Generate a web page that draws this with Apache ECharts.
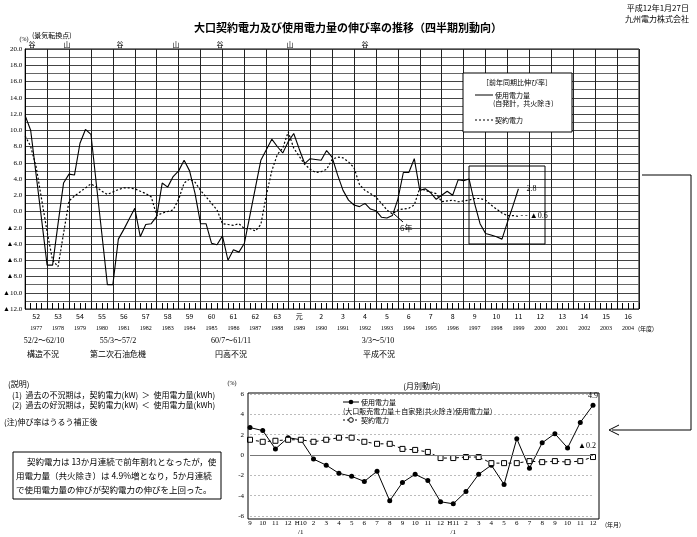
<!DOCTYPE html>
<html><head><meta charset="utf-8">
<script src="https://cdn.jsdelivr.net/npm/echarts@6/dist/echarts.min.js"></script>
<style>html,body{margin:0;padding:0;background:#fff}#c{width:697px;height:537px}</style>
</head><body><div id="c"></div>
<script>
// ---- data ----
const eraYears = ['52','53','54','55','56','57','58','59','60','61','62','63','元','2','3','4','5','6','7','8','9','10','11','12','13','14','15','16'];
const westYears = ['1977','1978','1979','1980','1981','1982','1983','1984','1985','1986','1987','1988','1989','1990','1991','1992','1993','1994','1995','1996','1997','1998','1999','2000','2001','2002','2003','2004'];
// quarterly growth rate (%), from FY52 Q1 to FY11 Q3
const usageQ = [11.8,10.0,4.5,-1.0, -6.6,-6.6,-1.5,3.5, 4.6,4.5,8.4,10.1, 9.5,3.3,-2.8,-9.0,
  -9.0,-3.4,-2.2,-0.9, 0.4,-3.1,-1.6,-1.5, -0.6,3.5,3.0,4.3, 5.0,6.3,5.0,2.2,
  -1.5,-1.5,-3.9,-4.1, -3.0,-6.0,-4.7,-5.0, -3.9,-0.5,2.9,6.3, 7.6,8.9,8.0,7.2,
  8.6,9.6,7.7,5.9, 6.5,6.4,6.3,7.5, 6.7,4.5,2.6,1.4, 0.8,0.6,1.0,0.3,
  0.1,-0.7,-0.8,-0.5, 1.5,4.8,4.8,6.5, 2.6,2.8,2.3,1.5, 2.0,2.5,2.0,3.9,
  3.8,4.0,1.0,-1.5, -2.7,-2.9,-3.1,-3.4, -1.3,0.7,2.8];
const contractQ = [9.3,8.0,5.5,1.5, -2.5,-6.0,-6.8,-2.7, 1.3,1.9,2.4,2.9, 3.4,3.0,2.5,2.1,
  2.4,2.7,2.9,2.9, 2.8,2.5,2.2,1.8, -0.5,-0.2,0.0,0.2, 1.5,3.5,4.0,3.6,
  2.6,1.8,1.0,0.2, -1.5,-1.6,-1.7,-1.5, -2.1,-2.1,-2.4,-1.6, 2.0,5.0,7.0,7.8,
  9.8,7.8,6.8,5.8, 5.2,4.8,4.9,5.2, 6.4,6.7,6.6,6.1, 5.4,3.3,2.6,2.2,
  1.8,1.0,0.2,-0.3, 0.2,0.3,0.4,0.8, 2.9,2.6,2.4,2.2, 1.2,1.3,1.4,1.2,
  1.3,1.4,1.6,1.6, 1.4,0.8,0.3,-0.2, -0.5,-0.5,-0.6];
const monthLabels = ['9','10','11','12','H10\n/1','2','3','4','5','6','7','8','9','10','11','12','H11\n/1','2','3','4','5','6','7','8','9','10','11','12'];
const usageM = [2.7,2.4,0.6,1.7,1.5,-0.4,-1.0,-1.8,-2.1,-2.6,-1.6,-4.5,-2.7,-1.9,-2.5,-4.6,-4.8,-3.6,-1.9,-1.0,-2.9,1.6,-1.3,1.2,2.1,0.7,3.2,4.9];
const contractM = [1.5,1.3,1.4,1.5,1.5,1.3,1.5,1.7,1.7,1.3,1.1,1.1,0.6,0.5,0.3,-0.3,-0.3,-0.2,-0.2,-0.8,-0.8,-0.8,-0.6,-0.7,-0.6,-0.7,-0.6,-0.2];

// ---- helpers ----
const JP = '"Noto Sans CJK JP","Liberation Serif",sans-serif';
const NUM = '"Liberation Serif","Noto Sans CJK JP",serif';
const fmtTri = v => (v < 0 ? '▲' + Math.abs(v).toFixed(1) : v.toFixed(1));
function T(x, y, text, size, extra) {
  return {type: 'text', x: x, y: y, z: 100,
    style: Object.assign({text: text, fontSize: size, fontFamily: JP, fill: '#000', align: 'left', verticalAlign: 'middle'}, extra || {})};
}
function L(x1, y1, x2, y2, extra) {
  return {type: 'line', z: 100, shape: {x1: x1, y1: y1, x2: x2, y2: y2},
    style: Object.assign({stroke: '#000', lineWidth: 1}, extra || {})};
}
function lastLabelCat(arr, fmt, labelOpt) {
  return arr.map((v, i) => i === arr.length - 1
    ? {value: v, label: Object.assign({show: true, formatter: fmt(v), fontSize: 8, fontFamily: NUM, color: '#000'}, labelOpt)}
    : v);
}

const chart = echarts.init(document.getElementById('c'));
const cycleMarks = [['谷', 32], ['山', 67], ['谷', 120], ['山', 176], ['谷', 220], ['山', 290], ['谷', 365]];

const option = {
  animation: false,
  backgroundColor: '#fff',
  grid: [
    {left: 22, top: 49, width: 617, height: 260, show: true, borderColor: '#000', borderWidth: 1, backgroundColor: 'transparent'},
    {left: 250, top: 394, width: 343, height: 125}
  ],
  xAxis: [
    {gridIndex: 0, type: 'category', data: eraYears, boundaryGap: true, position: 'bottom',
      axisLine: {show: false}, axisTick: {show: false},
      splitLine: {show: true, interval: 0, lineStyle: {color: '#222', width: 1}},
      axisLabel: {interval: 0, margin: 1, fontFamily: NUM, color: '#000',
        formatter: (v, i) => '{a|' + v + '}\n{b|' + westYears[i] + '}',
        rich: {a: {fontSize: 7, lineHeight: 12, fontFamily: JP}, b: {fontSize: 6, lineHeight: 12, fontFamily: NUM}}}},
    {gridIndex: 0, type: 'value', min: 0, max: 112, interval: 4, position: 'bottom',
      axisLine: {show: false}, axisLabel: {show: false}, splitLine: {show: false},
      axisTick: {show: true, inside: true, length: 6, lineStyle: {color: '#000'}},
      minorTick: {show: true, splitNumber: 4, length: 6, lineStyle: {color: '#000'}}},
    {gridIndex: 1, type: 'category', data: monthLabels, boundaryGap: false,
      axisLine: {show: false}, axisTick: {show: false},
      axisLabel: {interval: 0, margin: 3, fontSize: 7, lineHeight: 9, fontFamily: NUM, color: '#000'}}
  ],
  yAxis: [
    {gridIndex: 0, type: 'value', min: -12, max: 20, interval: 2,
      axisLine: {show: true, lineStyle: {color: '#000'}}, axisTick: {show: false},
      axisLabel: {formatter: fmtTri, fontSize: 7, margin: 3, fontFamily: NUM, color: '#000'},
      splitLine: {show: true, lineStyle: {color: '#444', width: 1}},
      minorTick: {show: false, splitNumber: 2},
      minorSplitLine: {show: true, lineStyle: {color: '#666', width: 1}}},
    {gridIndex: 1, type: 'value', min: -6, max: 6, interval: 2,
      axisLine: {show: false}, axisTick: {show: false},
      axisLabel: {fontSize: 7, margin: 6, fontFamily: NUM, color: '#000'},
      splitLine: {show: true, lineStyle: {color: '#bbb', type: [2, 2]}}}
  ],
  series: [
    {name: '使用電力量', type: 'line', xAxisIndex: 1, yAxisIndex: 0, symbol: 'none', z: 5,
      lineStyle: {color: '#000', width: 1.1},
      endLabel: {show: true, distance: 8, fontSize: 8, fontFamily: NUM, color: '#000',
        formatter: p => p.value[1].toFixed(1)},
      data: usageQ.map((v, i) => [i, v])},
    {name: '契約電力', type: 'line', xAxisIndex: 1, yAxisIndex: 0, symbol: 'none', z: 4,
      lineStyle: {color: '#000', width: 1.2, type: [2, 2]},
      endLabel: {show: true, distance: 2, fontSize: 8, fontFamily: NUM, color: '#000',
        formatter: p => '- - ' + fmtTri(p.value[1])},
      data: contractQ.map((v, i) => [i, v])},
    {name: '使用電力量M', type: 'line', xAxisIndex: 2, yAxisIndex: 1, symbol: 'circle', symbolSize: 5,
      itemStyle: {color: '#000'}, lineStyle: {color: '#000', width: 1},
      data: lastLabelCat(usageM, v => v.toFixed(1), {position: 'top', distance: 3}),
      markLine: {silent: true, symbol: 'none', label: {show: false},
        lineStyle: {color: '#777', type: 'solid', width: 1}, data: [{yAxis: 0}]}},
    {name: '契約電力M', type: 'line', xAxisIndex: 2, yAxisIndex: 1, symbol: 'rect', symbolSize: 5,
      itemStyle: {color: '#fff', borderColor: '#000', borderWidth: 1}, lineStyle: {color: '#000', width: 1, type: [3, 3]},
      data: lastLabelCat(contractM, fmtTri, {position: 'top', distance: 4, offset: [-6, 0]})}
  ],
  graphic: [
    T(348, 28, '大口契約電力及び使用電力量の伸び率の推移（四半期別動向）', 11, {align: 'center', fontWeight: 'bold'}),
    T(689, 8, '平成12年1月27日', 8, {align: 'right'}),
    T(689, 19, '九州電力株式会社', 8, {align: 'right'}),
    T(24, 39, '(%)', 6, {align: 'center', fontFamily: NUM}),
    T(32, 35, '(景気転換点)', 7),
  ].concat(cycleMarks.map(m => T(m[1], 44, m[0], 7, {align: 'center'}))).concat([
    // legend box (quarterly)
    {type: 'rect', z: 100, shape: {x: 463, y: 73, width: 109, height: 59}, style: {fill: '#fff', stroke: '#000', lineWidth: 1}},
    T(517, 82, '［前年同期比伸び率］', 7, {align: 'center'}),
    L(475, 95, 493, 95),
    T(495, 95, '使用電力量', 7),
    T(493, 103, '(自発計，共火除き)', 7),
    L(475, 120, 493, 120, {lineDash: [2, 2]}),
    T(495, 120, '契約電力', 7),
    // highlight box
    {type: 'rect', z: 100, shape: {x: 469, y: 166, width: 76, height: 78}, style: {fill: 'none', stroke: '#000', lineWidth: 1}},
    // 6年 callout
    L(394, 214, 403, 222),
    T(400, 228, '6年', 8),
    // connector to monthly chart
    {type: 'polyline', z: 100, shape: {points: [[642, 175], [691, 175], [691, 430], [612, 430]]}, style: {stroke: '#000', lineWidth: 1, fill: 'none'}},
    {type: 'polyline', z: 100, shape: {points: [[619, 425], [609, 430], [619, 435]]}, style: {stroke: '#000', lineWidth: 1, fill: 'none'}},
    // recession labels
    T(44, 341, '52/2～62/10', 8, {align: 'center', fontFamily: NUM}),
    T(43, 354, '構造不況', 8, {align: 'center'}),
    T(118, 341, '55/3～57/2', 8, {align: 'center', fontFamily: NUM}),
    T(118, 354, '第二次石油危機', 8, {align: 'center'}),
    T(231, 341, '60/7～61/11', 8, {align: 'center', fontFamily: NUM}),
    T(231, 354, '円高不況', 8, {align: 'center'}),
    T(378, 341, '3/3～5/10', 8, {align: 'center', fontFamily: NUM}),
    T(379, 354, '平成不況', 8, {align: 'center'}),
    T(646, 329, '(年度)', 6, {align: 'center'}),
    // notes
    T(8, 384, '(説明)', 8),
    T(12, 395, '(1)  過去の不況期は，契約電力(kW)  ＞  使用電力量(kWh)', 8),
    T(12, 405, '(2)  過去の好況期は，契約電力(kW)  ＜  使用電力量(kWh)', 8),
    T(4, 422, '(注)伸び率はうるう補正後', 8),
    {type: 'rect', z: 100, shape: {x: 13, y: 452, width: 208, height: 47}, style: {fill: '#fff', stroke: '#000', lineWidth: 1}},
    T(27, 462, '契約電力は 13か月連続で前年割れとなったが，使', 8.5),
    T(16, 476, '用電力量（共火除き）は 4.9%増となり，5か月連続', 8.5),
    T(16, 490, 'で使用電力量の伸びが契約電力の伸びを上回った。', 8.5),
    // monthly chart frame & texts
    {type: 'rect', z: 100, shape: {x: 248, y: 393, width: 351, height: 126}, style: {fill: 'none', stroke: '#000', lineWidth: 1}},
    T(232, 383, '(%)', 6, {align: 'center', fontFamily: NUM}),
    T(422, 386, '(月別動向)', 8, {align: 'center'}),
    L(343, 402, 359, 402),
    {type: 'circle', z: 101, shape: {cx: 351, cy: 402, r: 2.3}, style: {fill: '#000'}},
    T(361, 402, '使用電力量', 7),
    T(343, 411, '(大口販売電力量＋自家発(共火除き)使用電力量)', 7),
    L(343, 420, 359, 420, {lineDash: [2, 2]}),
    {type: 'circle', z: 101, shape: {cx: 351, cy: 420, r: 2.3}, style: {fill: '#fff', stroke: '#000', lineWidth: 1}},
    T(361, 420, '契約電力', 7),
    T(613, 525, '(年月)', 6, {align: 'center'})
  ])
};
chart.setOption(option);
</script>
</body></html>
